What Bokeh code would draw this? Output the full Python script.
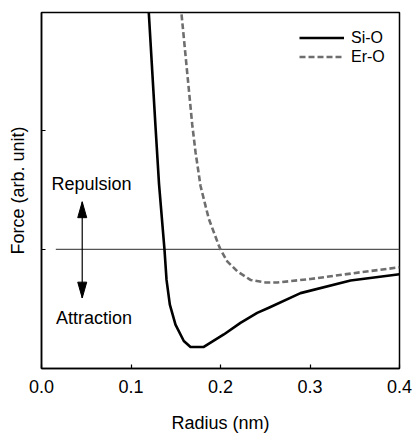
from bokeh.plotting import figure
from bokeh.models import Legend, LegendItem, FixedTicker, NumeralTickFormatter, CustomJSTickFormatter
from bokeh.embed import file_html
from bokeh.resources import INLINE
from bokeh.core.properties import value

# ---- data ----
si_radius = [0.1194, 0.1274, 0.1313, 0.1374, 0.1397, 0.1434, 0.1497, 0.1590, 0.1665,
             0.1813, 0.2037, 0.2223, 0.2410, 0.2540, 0.2894, 0.3453, 0.4000]
si_force = [2.05, 1.03, 0.55, 0.0, -0.256, -0.464, -0.631, -0.769, -0.819,
            -0.819, -0.714, -0.617, -0.533, -0.49, -0.367, -0.261, -0.208]

er_radius = [0.1555, 0.1684, 0.1721, 0.1777, 0.1869, 0.1981, 0.2000, 0.2075, 0.2187,
             0.2335, 0.2503, 0.2634, 0.3006, 0.3564, 0.4000]
er_force = [2.05, 1.05, 0.817, 0.533, 0.258, 0.033, 0.0, -0.10, -0.183,
            -0.256, -0.278, -0.278, -0.248, -0.192, -0.15]

x_ticks = [0.0, 0.1, 0.2, 0.3, 0.4]
y_ticks = [0.0, 1.0]

zero_r = [0.016, 0.4]
zero_f = [0.0, 0.0]

arrow_r = [0.0455, 0.0455]
arrow_f = [-0.408, 0.400]

note_text = ["Repulsion", "Attraction"]
note_r = [0.0559, 0.0587]
note_f = [0.55, -0.575]

series_names = ["Si-O", "Er-O"]

# ---- figure ----
X0, X1 = 0.0, 0.4
Y0, Y1 = -1.0, 1.99
FONT = "Liberation Sans"

p = figure(width=412, height=435, x_range=(X0, X1), y_range=(Y0, Y1),
           output_backend="svg", toolbar_location=None,
           min_border_left=41, min_border_right=13, min_border_top=12, min_border_bottom=64)

p.xgrid.visible = False
p.ygrid.visible = False
p.outline_line_color = "black"
p.outline_line_width = 1.5
p.outline_line_alpha = 1.0
p.background_fill_color = "white"

for ax in (p.xaxis[0], p.yaxis[0]):
    ax.axis_line_color = "black"
    ax.axis_line_width = 1.5
    ax.major_tick_in = 4
    ax.major_tick_out = 0
    ax.major_tick_line_color = "black"
    ax.major_tick_line_width = 1.2
    ax.minor_tick_line_color = None
    ax.axis_label_text_font = FONT
    ax.axis_label_text_font_size = "18px"
    ax.axis_label_text_font_style = "normal"
    ax.axis_label_text_color = "black"
    ax.major_label_text_font = FONT
    ax.major_label_text_font_size = "18px"
    ax.major_label_text_color = "black"

p.xaxis.ticker = FixedTicker(ticks=x_ticks)
p.xaxis.formatter = NumeralTickFormatter(format="0.0")
p.xaxis.major_label_standoff = 11
p.xaxis.axis_label = "Radius (nm)"
p.xaxis.axis_label_standoff = 17

p.yaxis.ticker = FixedTicker(ticks=y_ticks)
p.yaxis.formatter = CustomJSTickFormatter(code="return ''")
p.yaxis.major_label_standoff = 0
p.yaxis.axis_label = "Force (arb. unit)"
p.yaxis.axis_label_standoff = 14

# zero reference line
p.line(zero_r, zero_f, line_color="#555555", line_width=1.2)

# curves
r_si = p.line(si_radius, si_force, line_color="black", line_width=2.6, line_join="round")
r_er = p.line(er_radius, er_force, line_color="#6e6e6e", line_width=2.6, line_dash="6 3")

# double arrow
p.line(arrow_r, arrow_f, line_color="black", line_width=1.2)
frame_w, frame_h = 358.0, 359.0
head_len = 16.0 * (Y1 - Y0) / frame_h
head_half = 4.5 * (X1 - X0) / frame_w
ax_ = arrow_r[0]
lo, hi = arrow_f[0], arrow_f[1]
p.patches(
    [[ax_ - head_half, ax_, ax_ + head_half], [ax_ - head_half, ax_, ax_ + head_half]],
    [[hi - head_len, hi, hi - head_len], [lo + head_len, lo, lo + head_len]],
    fill_color="black", line_color="black", line_width=1)

# annotations
p.text(x=note_r, y=note_f, text=note_text, text_font=value(FONT),
       text_font_size=value("18px"), text_align="center", text_baseline="middle",
       text_color="black")

legend = Legend(items=[LegendItem(label=series_names[0], renderers=[r_si]),
                       LegendItem(label=series_names[1], renderers=[r_er])],
                location=(258, 302))
legend.glyph_width = 45
legend.glyph_height = 19
legend.label_height = 19
legend.label_standoff = 7
legend.spacing = 0
legend.padding = 0
legend.margin = 0
legend.border_line_alpha = 0
legend.background_fill_alpha = 0
legend.label_text_font = FONT
legend.label_text_font_size = "16px"
legend.label_text_color = "black"
p.add_layout(legend, "center")

open("out.html", "w").write(file_html(p, INLINE))
